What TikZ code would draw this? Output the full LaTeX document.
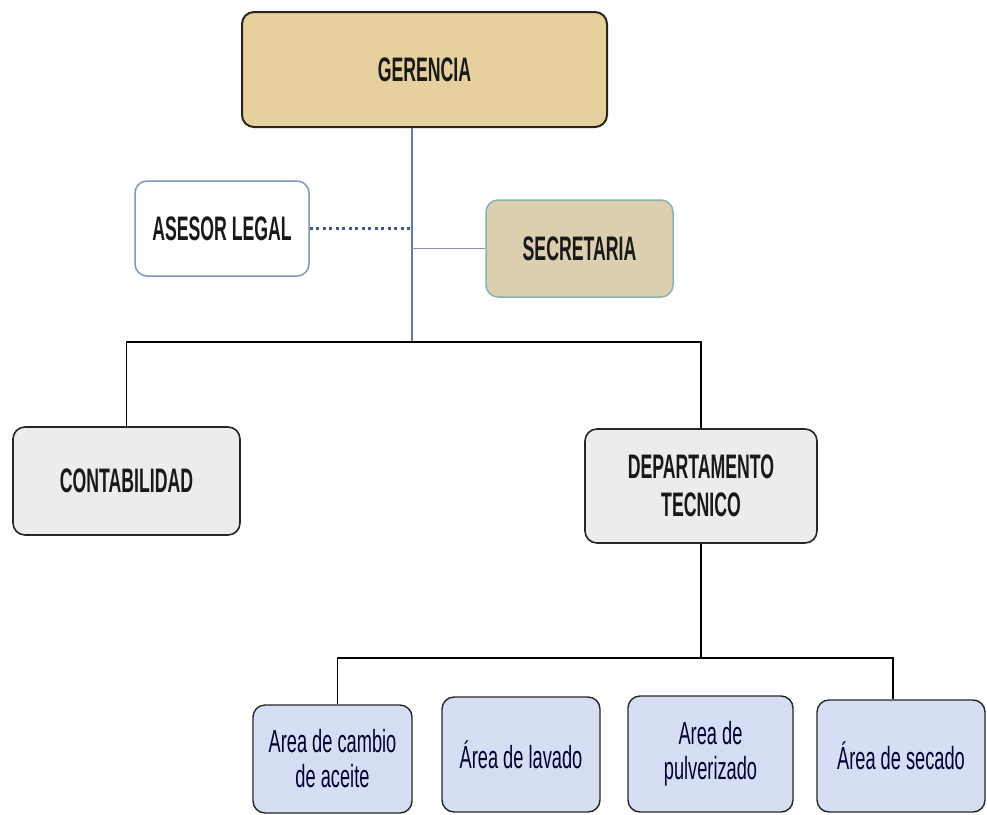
\documentclass[tikz,border=0pt]{standalone}
\usepackage{fontspec}
\setmainfont{Liberation Sans}[FakeStretch=0.57]
\newfontfamily\capsfont{Liberation Sans}[FakeStretch=0.52]
\usetikzlibrary{positioning}
\definecolor{papiro}{HTML}{E6D09E}
\definecolor{papiroborde}{HTML}{2B2418}
\definecolor{secfill}{HTML}{DCCFB0}
\definecolor{secborde}{HTML}{86B7A6}
\definecolor{asesorborde}{HTML}{7D97B8}
\definecolor{granito}{HTML}{ECECEC}
\definecolor{areafill}{HTML}{D6DEF4}
\definecolor{lineaazul}{HTML}{5B7FAF}
\definecolor{puntos}{HTML}{3B5A8A}
\definecolor{lineasec}{HTML}{8A8FB8}

\begin{document}
\begin{tikzpicture}[
x=1pt,y=-1pt,
caja/.style={
  draw,
  rounded corners=12pt,
  inner sep=0pt,
  align=center,
  text=black!90
},
jefe/.style={
  caja,
  fill=papiro,
  draw=papiroborde,
  line width=2pt,
  font=\capsfont\bfseries\fontsize{34}{38}\selectfont
},
staff/.style={
  caja,
  line width=1.5pt,
  font=\capsfont\bfseries\fontsize{34}{38}\selectfont
},
depto/.style={
  caja,
  fill=granito,
  draw=black!85,
  line width=1.6pt,
  font=\capsfont\bfseries\fontsize{34}{38}\selectfont
},
area/.style={
  caja,
  fill=areafill,
  draw=black!85,
  line width=1.4pt,
  text=black!80!blue,
  font=\fontsize{32}{35}\selectfont
},
org/.style={
  draw=black,
  line width=1.3pt
}
]
\useasboundingbox (0,0) rectangle (987,814);

\node[jefe,minimum width=365pt,minimum height=115pt] at (424.5,69.5)
  (gerencia) {GERENCIA};
\node[staff,fill=white,draw=asesorborde,minimum width=174pt,minimum height=95pt] at (222,228.5)
  (asesor) {ASESOR LEGAL};
\node[staff,fill=secfill,draw=secborde,minimum width=187pt,minimum height=97pt] at (579.5,248.5)
  (secretaria) {SECRETARIA};
\node[depto,minimum width=227pt,minimum height=108pt] at (126.5,481)
  (conta) {CONTABILIDAD};
\node[depto,minimum width=232pt,minimum height=114pt] at (701,486)
  (tecnico) {DEPARTAMENTO\\TECNICO};

\node[area,minimum width=159pt,minimum height=108pt] at (332.5,759)
  (aceite) {Area de cambio\\de aceite};
\node[area,minimum width=158pt,minimum height=115pt] at (521,754.5)
  (lavado) {Área de lavado};
\node[area,minimum width=165pt,minimum height=116pt] at (710.5,754)
  (pulverizado) {Area de\\pulverizado};
\node[area,minimum width=168pt,minimum height=112pt] at (901,756)
  (secado) {Área de secado};

\coordinate (hub) at (412,342);
\coordinate (hubarea) at (700,658);

\draw[lineaazul,line width=1.2pt] (gerencia.south -| hub) -- (hub);
\draw[puntos,line width=3.5pt,dash pattern=on 3pt off 3.5pt] (asesor.east) -- (asesor.east -| hub);
\draw[lineasec,line width=1.2pt] (secretaria.west) -- (secretaria.west -| hub);

\draw[org] (conta.north) |- (hub) -| (tecnico.north);
\draw[org] (tecnico.south) -- (tecnico.south |- hubarea);
\draw[org] ([xshift=5pt]aceite.north) |- (hubarea) -| ([xshift=-8pt]secado.north);
\end{tikzpicture}
\end{document}
